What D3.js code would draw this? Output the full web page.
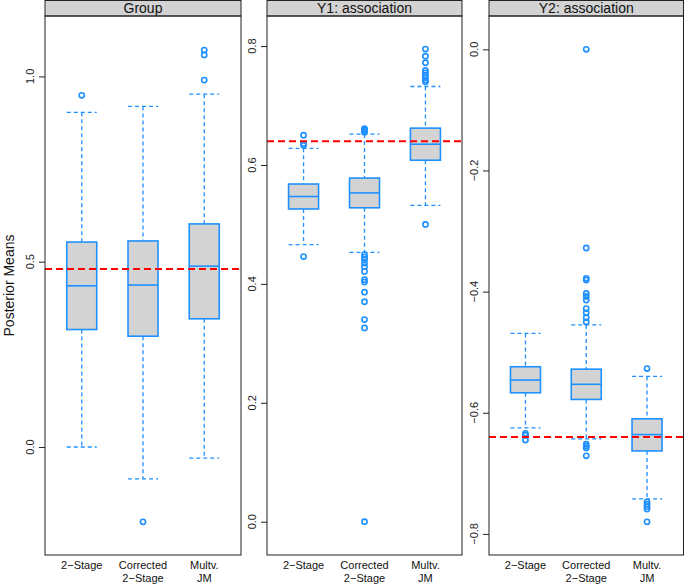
<!DOCTYPE html>
<html>
<head>
<meta charset="utf-8">
<script src="https://cdn.jsdelivr.net/npm/d3@7"></script>
<style>
  body { margin: 0; background: #fff; }
  svg { display: block; font-family: "Liberation Sans", Arial, Helvetica, sans-serif; }
</style>
</head>
<body>
<div id="chart"></div>
<script>
// Methods on the x axis
const categories = ["2\u2212Stage", "Corrected\n2\u2212Stage", "Multv.\nJM"];

// Panel titles and y ticks
const panelTitles = ["Group", "Y1: association", "Y2: association"];
const groupTicks = [0.0, 0.5, 1.0];
const y1Ticks = [0.0, 0.2, 0.4, 0.6, 0.8];
const y2Ticks = [-0.8, -0.6, -0.4, -0.2, 0.0];

// True values (red dashed line)
const trueValues = [0.48, 0.64, -0.64];

// Box stats per method: [lower whisker, Q1, median, Q3, upper whisker]
const groupStats = [
  [0.000, 0.317, 0.435, 0.553, 0.903],
  [-0.086, 0.299, 0.437, 0.556, 0.919],
  [-0.030, 0.346, 0.488, 0.602, 0.952]
];
const y1Stats = [
  [0.466, 0.526, 0.547, 0.568, 0.628],
  [0.453, 0.528, 0.553, 0.578, 0.652],
  [0.532, 0.608, 0.635, 0.662, 0.732]
];
const y2Stats = [
  [-0.625, -0.567, -0.546, -0.524, -0.469],
  [-0.643, -0.578, -0.553, -0.528, -0.455],
  [-0.742, -0.663, -0.636, -0.610, -0.540]
];

// Outliers per method
const groupOutliers = [
  [0.949],
  [-0.202],
  [0.990, 1.058, 1.071]
];
const y1Outliers = [
  [0.633, 0.636, 0.650, 0.446],
  [0.655, 0.657, 0.659, 0.661, 0.449, 0.445, 0.441, 0.435, 0.429, 0.421, 0.407, 0.403,
   0.386, 0.370, 0.340, 0.326, 0.000],
  [0.795, 0.783, 0.772, 0.759, 0.755, 0.751, 0.747, 0.743, 0.740, 0.500]
];
const y2Outliers = [
  [-0.634, -0.637, -0.645],
  [-0.450, -0.443, -0.435, -0.428, -0.414, -0.408, -0.403, -0.381, -0.378, -0.328, 0.000,
   -0.652, -0.655, -0.658, -0.671],
  [-0.527, -0.747, -0.751, -0.755, -0.759, -0.780]
];

const panels = [
  { title: panelTitles[0], stats: groupStats, outliers: groupOutliers, ticks: groupTicks, truth: trueValues[0],
    x0: 45, x1: 241, domain: [-0.2914, 1.163] },
  { title: panelTitles[1], stats: y1Stats, outliers: y1Outliers, ticks: y1Ticks, truth: trueValues[1],
    x0: 267, x1: 462, domain: [-0.056, 0.8506] },
  { title: panelTitles[2], stats: y2Stats, outliers: y2Outliers, ticks: y2Ticks, truth: trueValues[2],
    x0: 489, x1: 683.5, domain: [-0.8348, 0.055] }
];

const W = 685, H = 585;
const stripTop = 0.5, stripBottom = 16, plotBottom = 555;
const boxWidth = 30;
const blue = "#1E90FF";

const svg = d3.select("#chart").append("svg")
  .attr("width", W)
  .attr("height", H);

function fmt(v) {
  return d3.format(".1f")(v).replace("-", "\u2212");
}

panels.forEach(function(p) {
  const g = svg.append("g");

  const x = d3.scalePoint()
    .domain(categories)
    .range([p.x0, p.x1])
    .padding(0.6);

  const y = d3.scaleLinear()
    .domain(p.domain)
    .range([plotBottom, stripBottom]);

  // strip header
  g.append("rect")
    .attr("x", p.x0)
    .attr("y", stripTop)
    .attr("width", p.x1 - p.x0)
    .attr("height", stripBottom - stripTop)
    .attr("fill", "#d3d3d3")
    .attr("stroke", "#222")
    .attr("stroke-width", 1);

  g.append("text")
    .attr("x", (p.x0 + p.x1) / 2)
    .attr("y", stripBottom - 3)
    .attr("text-anchor", "middle")
    .style("font-size", "14px")
    .attr("fill", "#111")
    .text(p.title);

  // y axis ticks
  const axis = g.append("g")
    .attr("transform", `translate(${p.x0},0)`)
    .call(d3.axisLeft(y).tickValues(p.ticks).tickSize(6).tickFormat(""));
  axis.select(".domain").remove();
  axis.selectAll(".tick line").attr("stroke", "#222");

  g.selectAll("text.ytick")
    .data(p.ticks)
    .enter()
    .append("text")
    .attr("class", "ytick")
    .attr("transform", d => `translate(${p.x0 - 11},${y(d)}) rotate(-90)`)
    .attr("text-anchor", "middle")
    .style("font-size", "11px")
    .attr("fill", "#222")
    .text(fmt);

  // whiskers
  const boxes = g.selectAll("g.box")
    .data(p.stats.map((s, i) => ({ cat: categories[i], s: s, out: p.outliers[i] })))
    .enter()
    .append("g")
    .attr("class", "box");

  boxes.append("line")
    .attr("x1", d => x(d.cat)).attr("x2", d => x(d.cat))
    .attr("y1", d => y(d.s[4])).attr("y2", d => y(d.s[3]))
    .attr("stroke", blue).attr("stroke-width", 1.3).attr("stroke-dasharray", "4,3");
  boxes.append("line")
    .attr("x1", d => x(d.cat)).attr("x2", d => x(d.cat))
    .attr("y1", d => y(d.s[1])).attr("y2", d => y(d.s[0]))
    .attr("stroke", blue).attr("stroke-width", 1.3).attr("stroke-dasharray", "4,3");

  [0, 4].forEach(function(k) {
    boxes.append("line")
      .attr("x1", d => x(d.cat) - boxWidth / 2).attr("x2", d => x(d.cat) + boxWidth / 2)
      .attr("y1", d => y(d.s[k])).attr("y2", d => y(d.s[k]))
      .attr("stroke", blue).attr("stroke-width", 1.3).attr("stroke-dasharray", "4,3");
  });

  // box
  boxes.append("rect")
    .attr("x", d => x(d.cat) - boxWidth / 2)
    .attr("y", d => y(d.s[3]))
    .attr("width", boxWidth)
    .attr("height", d => y(d.s[1]) - y(d.s[3]))
    .attr("fill", "#d3d3d3")
    .attr("stroke", blue)
    .attr("stroke-width", 1.6);

  // median
  boxes.append("line")
    .attr("x1", d => x(d.cat) - boxWidth / 2).attr("x2", d => x(d.cat) + boxWidth / 2)
    .attr("y1", d => y(d.s[2])).attr("y2", d => y(d.s[2]))
    .attr("stroke", blue).attr("stroke-width", 1.6);

  // outliers
  boxes.selectAll("circle")
    .data(d => d.out.map(v => ({ cat: d.cat, v: v })))
    .enter()
    .append("circle")
    .attr("cx", d => x(d.cat))
    .attr("cy", d => y(d.v))
    .attr("r", 2.6)
    .attr("fill", "none")
    .attr("stroke", blue)
    .attr("stroke-width", 1.6);

  // true value
  g.append("line")
    .attr("x1", p.x0).attr("x2", p.x1)
    .attr("y1", y(p.truth)).attr("y2", y(p.truth))
    .attr("stroke", "#ff0000")
    .attr("stroke-width", 2)
    .attr("stroke-dasharray", "7,4");

  // panel border
  g.append("rect")
    .attr("x", p.x0)
    .attr("y", stripBottom)
    .attr("width", p.x1 - p.x0)
    .attr("height", plotBottom - stripBottom)
    .attr("fill", "none")
    .attr("stroke", "#222")
    .attr("stroke-width", 1);

  // x labels
  categories.forEach(function(c) {
    c.split("\n").forEach(function(line, j) {
      g.append("text")
        .attr("x", x(c))
        .attr("y", 569 + j * 12.7)
        .attr("text-anchor", "middle")
        .style("font-size", "11px")
        .attr("fill", "#111")
        .text(line);
    });
  });
});

// y axis title
svg.append("text")
  .attr("transform", `translate(14,${(stripBottom + plotBottom) / 2}) rotate(-90)`)
  .attr("text-anchor", "middle")
  .style("font-size", "14px")
  .attr("fill", "#111")
  .text("Posterior Means");
</script>
</body>
</html>
